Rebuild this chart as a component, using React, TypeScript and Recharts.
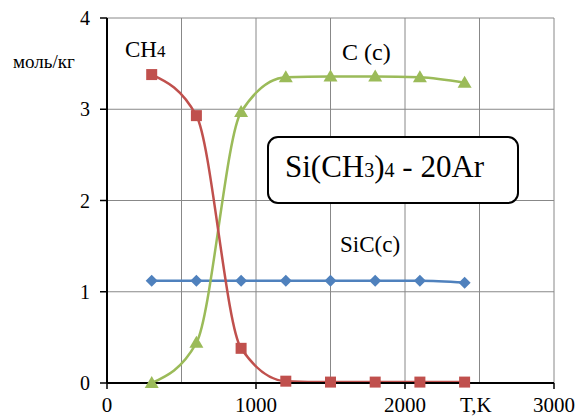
import { LineChart, Line, XAxis, YAxis, CartesianGrid, ReferenceLine } from 'recharts';

const temps = [300, 600, 900, 1200, 1500, 1800, 2100, 2400];
const ch4 = [3.38, 2.93, 0.38, 0.02, 0.01, 0.01, 0.01, 0.01];
const carbon = [0, 0.44, 2.97, 3.35, 3.36, 3.36, 3.35, 3.29];
const sic = [1.12, 1.12, 1.12, 1.12, 1.12, 1.12, 1.12, 1.1];
const xTicks = [0, 1000, 2000, 3000];
const yTicks = [0, 1, 2, 3, 4];
const xGrid = [500, 1000, 1500, 2000, 2500, 3000];

const data = temps.map((t, i) => ({ t, ch4: ch4[i], carbon: carbon[i], sic: sic[i] }));

const font = "'Liberation Serif', 'Times New Roman', serif";
const RED = '#c0504d';
const GREEN = '#9bbb59';
const BLUE = '#4f81bd';

const Square = (p: any) => (
  <rect key={p.index} x={p.cx - 5.5} y={p.cy - 5.5} width={11} height={11} fill={RED} />
);
const Triangle = (p: any) => (
  <path key={p.index} d={`M${p.cx},${p.cy - 7} L${p.cx + 7},${p.cy + 5} L${p.cx - 7},${p.cy + 5} Z`} fill={GREEN} />
);
const Diamond = (p: any) => (
  <path key={p.index} d={`M${p.cx},${p.cy - 6} L${p.cx + 6},${p.cy} L${p.cx},${p.cy + 6} L${p.cx - 6},${p.cy} Z`} fill={BLUE} />
);

export default function App() {
  return (
    <div style={{ position: 'absolute', left: 0, top: 0, width: 579, height: 418, background: '#fff' }}>
      <LineChart width={579} height={418} data={data} margin={{ top: 18, right: 25, bottom: 0, left: 0 }}>
        <CartesianGrid vertical={false} stroke="#888" strokeWidth={1} />
        {xGrid.map((v) => (
          <ReferenceLine key={v} x={v} stroke="#888" strokeWidth={1} />
        ))}
        <XAxis
          dataKey="t"
          type="number"
          domain={[0, 3000]}
          ticks={xTicks}
          axisLine={{ stroke: '#000', strokeWidth: 2 }}
          tickLine={{ stroke: '#000', strokeWidth: 1.5 }}
          tickSize={6}
          tickMargin={8}
          height={35}
          tick={{ fill: '#000', fontSize: 21, fontFamily: font }}
        />
        <YAxis
          type="number"
          domain={[0, 4]}
          ticks={yTicks}
          width={107}
          axisLine={{ stroke: '#000', strokeWidth: 2 }}
          tickLine={{ stroke: '#000', strokeWidth: 1.5 }}
          tickSize={7}
          tickMargin={10}
          tick={{ fill: '#000', fontSize: 20, fontFamily: font }}
        />
        <Line type="monotone" dataKey="sic" stroke={BLUE} strokeWidth={2.5} dot={Diamond} isAnimationActive={false} />
        <Line type="monotone" dataKey="carbon" stroke={GREEN} strokeWidth={2.5} dot={Triangle} isAnimationActive={false} />
        <Line type="monotone" dataKey="ch4" stroke={RED} strokeWidth={2.5} dot={Square} isAnimationActive={false} />
      </LineChart>
      <svg width={579} height={418} style={{ position: 'absolute', left: 0, top: 0, pointerEvents: 'none' }}>
        <g fontFamily={font} fill="#000">
          <text x={13} y={68} fontSize={19}>моль/кг</text>
          <text x={125} y={57} fontSize={23}>
            CH<tspan fontSize={17}>4</tspan>
          </text>
          <text x={342} y={60} fontSize={24}>C (c)</text>
          <text x={340} y={252} fontSize={23}>SiC(c)</text>
          <text x={460} y={412} fontSize={21}>T,K</text>
        </g>
        <rect x={268} y={137} width={250} height={66} rx={10} fill="#fff" stroke="#000" strokeWidth={2} />
        <text x={285} y={177} fontSize={31} fontFamily={font} fill="#000">
          Si(CH<tspan fontSize={20}>3</tspan>)<tspan fontSize={20}>4</tspan> - 20Ar
        </text>
      </svg>
    </div>
  );
}
